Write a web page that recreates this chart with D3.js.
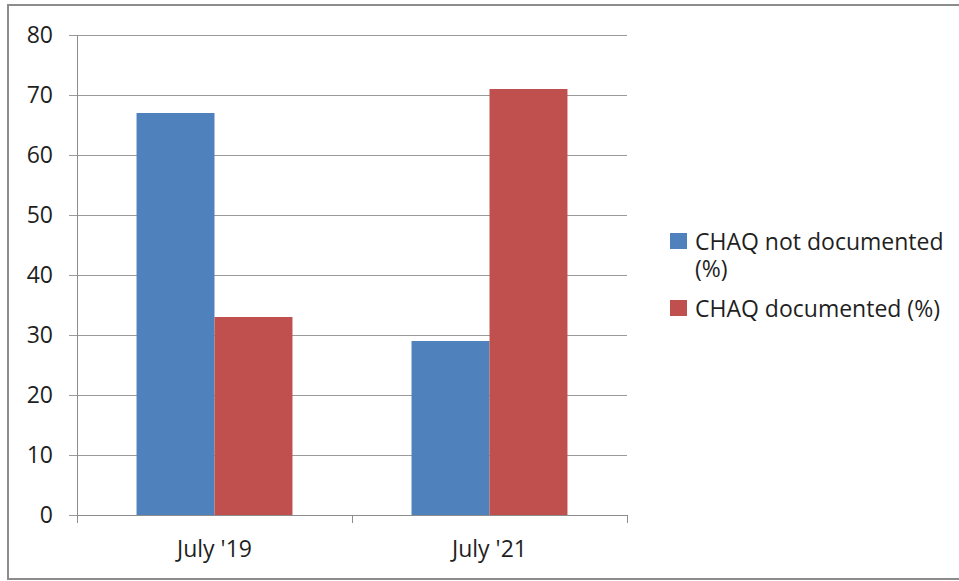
<!DOCTYPE html>
<html>
<head>
<meta charset="utf-8">
<script src="https://cdn.jsdelivr.net/npm/d3@7"></script>
<style>
  body { margin: 0; background: #fff; }
  svg { display: block; font-family: "Open Sans", sans-serif; }
</style>
</head>
<body>
<svg id="chart"></svg>
<script>
const CATEGORIES = ["July '19", "July '21"];
const SERIES = ["CHAQ not documented (%)", "CHAQ documented (%)"];
const NOT_DOCUMENTED = [67, 29];
const DOCUMENTED = [33, 71];
const Y_TICKS = [0, 10, 20, 30, 40, 50, 60, 70, 80];
const COLOURS = ["#4F81BD", "#C0504D"];

const WIDTH = 959,
      HEIGHT = 581;
const PLOT = { left: 77, right: 627, top: 35, bottom: 515 };
const TEXT_COLOUR = "#1f1f1f";
const FONT_SIZE = 23;

const svg = d3.select("#chart")
    .attr("width", WIDTH)
    .attr("height", HEIGHT);

// outer frame (right side runs off the picture)
svg.append("rect")
    .attr("x", 8)
    .attr("y", 5)
    .attr("width", WIDTH + 10)
    .attr("height", 574)
    .attr("fill", "none")
    .attr("stroke", "#8c8c8c")
    .attr("stroke-width", 2);

const xScale = d3.scaleBand()
    .domain(CATEGORIES)
    .range([PLOT.left, PLOT.right])
    .paddingInner(0.433)
    .paddingOuter(0.2165);

const xInner = d3.scaleBand()
    .domain(SERIES)
    .range([0, xScale.bandwidth()]);

const yScale = d3.scaleLinear()
    .domain([0, 80])
    .range([PLOT.bottom, PLOT.top]);

// gridlines
svg.append("g")
    .selectAll("line")
    .data(Y_TICKS)
    .join("line")
    .attr("x1", PLOT.left - 8)
    .attr("x2", PLOT.right)
    .attr("y1", d => Math.round(yScale(d)) + 0.5)
    .attr("y2", d => Math.round(yScale(d)) + 0.5)
    .attr("stroke", "#9a9a9a")
    .attr("stroke-width", 1);

// y tick labels
svg.append("g")
    .selectAll("text")
    .data(Y_TICKS)
    .join("text")
    .attr("x", 53)
    .attr("y", d => yScale(d))
    .attr("dy", "0.35em")
    .attr("text-anchor", "end")
    .attr("font-size", FONT_SIZE)
    .attr("fill", TEXT_COLOUR)
    .text(d => d);

// bars
const rows = CATEGORIES.map((c, i) => ({
    category: c,
    values: [NOT_DOCUMENTED[i], DOCUMENTED[i]]
}));

svg.append("g")
    .selectAll("g")
    .data(rows)
    .join("g")
    .attr("transform", d => `translate(${xScale(d.category)},0)`)
    .selectAll("rect")
    .data(d => d.values.map((v, j) => ({ series: SERIES[j], value: v, colour: COLOURS[j] })))
    .join("rect")
    .attr("x", d => xInner(d.series))
    .attr("y", d => yScale(d.value))
    .attr("width", xInner.bandwidth())
    .attr("height", d => yScale(0) - yScale(d.value))
    .attr("fill", d => d.colour);

// y axis line
svg.append("line")
    .attr("x1", PLOT.left + 0.5)
    .attr("x2", PLOT.left + 0.5)
    .attr("y1", PLOT.top)
    .attr("y2", PLOT.bottom + 8)
    .attr("stroke", "#8c8c8c");

// x axis line and ticks
svg.append("line")
    .attr("x1", PLOT.left)
    .attr("x2", PLOT.right)
    .attr("y1", PLOT.bottom + 0.5)
    .attr("y2", PLOT.bottom + 0.5)
    .attr("stroke", "#8c8c8c");

const boundaries = CATEGORIES.map(c => xScale(c) - xScale.step() * xScale.paddingInner() / 2);
boundaries.push(PLOT.right);
svg.append("g")
    .selectAll("line")
    .data(boundaries.slice(1))
    .join("line")
    .attr("x1", d => Math.round(d) + 0.5)
    .attr("x2", d => Math.round(d) + 0.5)
    .attr("y1", PLOT.bottom)
    .attr("y2", PLOT.bottom + 8)
    .attr("stroke", "#8c8c8c");

// x labels
svg.append("g")
    .selectAll("text")
    .data(CATEGORIES)
    .join("text")
    .attr("x", d => xScale(d) + xScale.bandwidth() / 2)
    .attr("y", 557)
    .attr("text-anchor", "middle")
    .attr("font-size", FONT_SIZE)
    .attr("fill", TEXT_COLOUR)
    .text(d => d);

// legend
const LEGEND_Y = [250, 317];
const legend = svg.append("g");
SERIES.forEach((name, i) => {
    legend.append("rect")
        .attr("x", 670)
        .attr("y", LEGEND_Y[i] - 17)
        .attr("width", 17)
        .attr("height", 16)
        .attr("fill", COLOURS[i]);

    let text = legend.append("text")
        .attr("x", 695)
        .attr("y", LEGEND_Y[i])
        .attr("font-size", FONT_SIZE)
        .attr("fill", TEXT_COLOUR);

    // wrap long labels onto a second line
    let words = name.split(" ");
    let line = [];
    let tspan = text.append("tspan").attr("x", 695);
    words.forEach(w => {
        line.push(w);
        tspan.text(line.join(" "));
        if (tspan.node().getComputedTextLength() > 255 && line.length > 1) {
            line.pop();
            tspan.text(line.join(" "));
            line = [w];
            tspan = text.append("tspan").attr("x", 695).attr("dy", 27).text(w);
        }
    });
});
</script>
</body>
</html>
